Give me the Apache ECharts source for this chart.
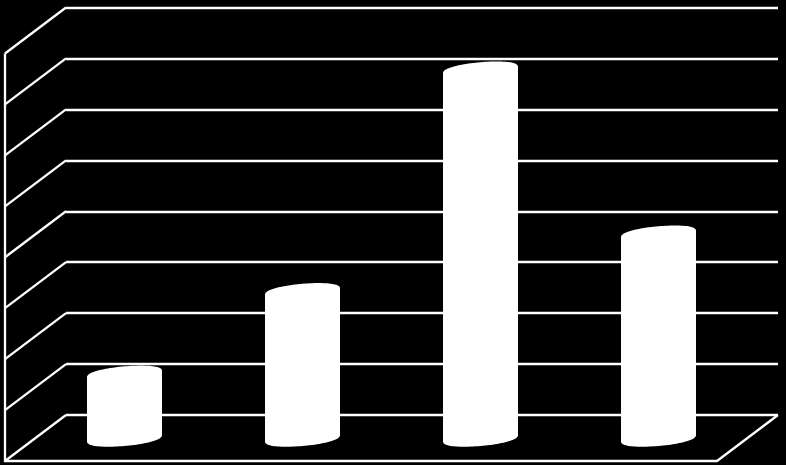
<!DOCTYPE html>
<html><head><meta charset="utf-8">
<style>html,body{margin:0;padding:0;background:#000}#c{width:786px;height:465px}</style>
<script src="https://cdn.jsdelivr.net/npm/echarts@6/dist/echarts.min.js"></script>
</head><body><div id="c"></div>
<script>
const categories = ['1', '2', '3', '4'];
const values = [1.25, 2.87, 7.22, 4.0];
const ticks = [0, 1, 2, 3, 4, 5, 6, 7, 8];

const DX = 61, DY = 46, BAR_W = 75, SHEAR = 3.2, ELL_H = 8;
const WHITE = '#fff', LW = 2.3;

function ellipseHalf(cx, cy, upper) {
  const pts = [], a = BAR_W / 2, n = 48;
  for (let i = 0; i <= n; i++) {
    const t = Math.PI - Math.PI * i / n;
    const s = Math.pow(Math.sin(t), 0.8) * (upper ? 1 : -1);
    pts.push([cx + a * Math.cos(t), cy - SHEAR * Math.cos(t) - ELL_H * s]);
  }
  return pts;
}

const chart = echarts.init(document.getElementById('c'), null, {renderer: 'canvas'});
chart.setOption({
  backgroundColor: '#000',
  animation: false,
  grid: {left: 66, right: 8, top: 7.5, height: 407.5},
  xAxis: {type: 'category', data: categories, axisLine: {show: false}, axisTick: {show: false}, axisLabel: {show: false}},
  yAxis: {type: 'value', min: ticks[0], max: ticks[ticks.length - 1], interval: 1,
    axisLine: {show: false}, axisTick: {show: false}, axisLabel: {show: false},
    splitLine: {show: true, lineStyle: {color: WHITE, width: LW}}},
  series: [
    {
      type: 'custom', coordinateSystem: 'cartesian2d', z: 2, silent: true,
      data: ticks.map(v => [categories[0], v]),
      encode: {x: 0, y: 1},
      renderItem(params, api) {
        const g = params.coordSys;
        const y = api.coord([0, api.value(1)])[1];
        const children = [{
          type: 'line',
          shape: {x1: g.x, y1: y, x2: g.x - DX, y2: y + DY},
          style: {stroke: WHITE, lineWidth: LW}
        }];
        if (api.value(1) === 0) {
          children.push({
            type: 'polyline',
            shape: {points: [[g.x - DX, g.y + DY], [g.x - DX, y + DY],
                             [g.x + g.width - DX, y + DY], [g.x + g.width, y]]},
            style: {stroke: WHITE, lineWidth: LW, fill: null}
          });
        }
        return {type: 'group', children};
      }
    },
    {
      type: 'custom', coordinateSystem: 'cartesian2d', z: 3, silent: true,
      data: values.map((v, i) => [categories[i], v]),
      encode: {x: 0, y: 1},
      renderItem(params, api) {
        const idx = params.dataIndex;
        const top = api.coord([idx, api.value(1)]);
        const base = api.coord([idx, 0]);
        const cx = top[0] - DX / 2;
        const pts = ellipseHalf(cx, top[1] + DY / 2, true)
          .concat(ellipseHalf(cx, base[1] + DY / 2, false).reverse());
        return {type: 'polygon', shape: {points: pts}, style: {fill: WHITE, stroke: null}};
      }
    }
  ]
});
</script></body></html>
